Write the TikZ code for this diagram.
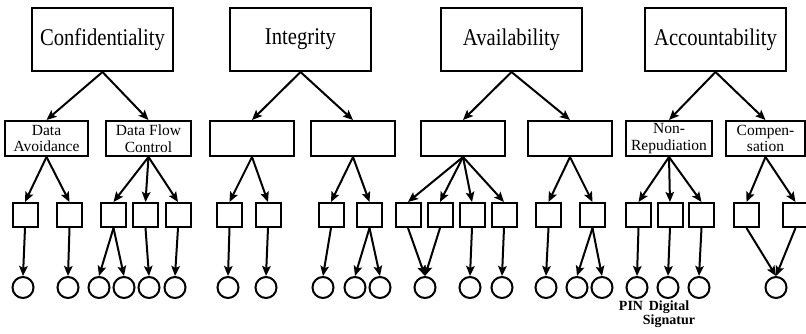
\documentclass[tikz,border=0pt]{standalone}
\usepackage{fontspec}
\setmainfont{Liberation Serif}
\newfontfamily\condfont[FakeStretch=0.86]{Liberation Serif}
\usetikzlibrary{arrows.meta}
\begin{document}
\begin{tikzpicture}[x=1pt,y=-1pt,
  topbox/.style={draw, line width=2pt, minimum width=141pt, minimum height=63pt, inner sep=0pt, font=\condfont\fontsize{24}{26}\selectfont},
  midbox/.style={draw, line width=2pt, minimum height=35pt, inner sep=0pt, align=center, font=\fontsize{15.5}{16.5}\selectfont},
  leaf/.style={draw, line width=2pt, minimum width=25pt, minimum height=24pt, inner sep=0pt},
  circ/.style={draw, circle, line width=2pt, minimum size=21pt, inner sep=0pt},
  arr/.style={-{Stealth[length=10pt,width=8.5pt,inset=2pt]}, line width=2pt},
  lbl/.style={anchor=base, inner sep=0pt, font=\bfseries\fontsize{14}{15}\selectfont}]
\useasboundingbox (0,0) rectangle (806,334);
% top boxes
\node[topbox] (T1) at (102.5,39.5) {Confidentiality};
\node[topbox] (T2) at (300.5,39.5) {Integrity};
\node[topbox] (T3) at (511.5,39.5) {Availability};
\node[topbox] (T4) at (715.5,39.5) {Accountability};
% middle boxes
\node[midbox, minimum width=83pt] (M1) at (46.5,138.5) {Data\\Avoidance};
\node[midbox, minimum width=85pt] (M2) at (148.5,138.5) {Data Flow\\Control};
\node[midbox, minimum width=84pt] (M3) at (252,138.5) {};
\node[midbox, minimum width=84pt] (M4) at (353,138.5) {};
\node[midbox, minimum width=84pt] (M5) at (463,138.5) {};
\node[midbox, minimum width=84pt] (M6) at (570,138.5) {};
\node[midbox, minimum width=86pt] (M7) at (669,138.5) {Non-\\Repudiation};
\node[midbox, minimum width=79pt] (M8) at (765.5,138.5) {Compen-\\sation};
% leaf boxes
\foreach \n/\x in {1/25,2/69.5,3/113.5,4/145.5,5/178,6/229.5,7/268,8/331,9/369.5,10/408,11/440,12/472,13/504,14/548.5,15/592.5,16/638.5,17/670,18/701.5,19/746.5,20/795.5}
  \node[leaf] (S\n) at (\x,215) {};
% circles
\foreach \n/\x in {1/23,2/68,3/99,4/124,5/149,6/175,7/228,8/266,9/323,10/355,11/380,12/425,13/470,14/502,15/546,16/577,17/602,18/637,19/668,20/699,21/776}
  \node[circ] (C\n) at (\x,287.5) {};
% top -> middle
\foreach \a/\b in {T1/M1,T1/M2,T2/M3,T2/M4,T3/M5,T3/M6,T4/M7,T4/M8}
  \draw[arr] (\a.south) -- (\b.north);
% middle -> leaf
\foreach \a/\b in {M1/S1,M1/S2,M2/S3,M2/S4,M2/S5,M3/S6,M3/S7,M4/S8,M4/S9,M5/S10,M5/S11,M5/S12,M5/S13,M6/S14,M6/S15,M7/S16,M7/S17,M7/S18,M8/S19,M8/S20}
  \draw[arr] (\a.south) -- (\b.north);
% leaf -> circle
\foreach \a/\b in {S1/C1,S2/C2,S3/C3,S3/C4,S4/C5,S5/C6,S6/C7,S7/C8,S8/C9,S9/C10,S9/C11,S10/C12,S11/C12,S12/C13,S13/C14,S14/C15,S15/C16,S15/C17,S16/C18,S17/C19,S18/C20,S19/C21,S20/C21}
  \draw[arr] (\a.south) -- (\b.north);
% labels
\node[lbl] (pin) at (631,310) {PIN};
\node[lbl] (dig) at (669,310) {Digital};
\node[lbl] (sig) at (669,324.5) {Signatur};
\end{tikzpicture}
\end{document}
